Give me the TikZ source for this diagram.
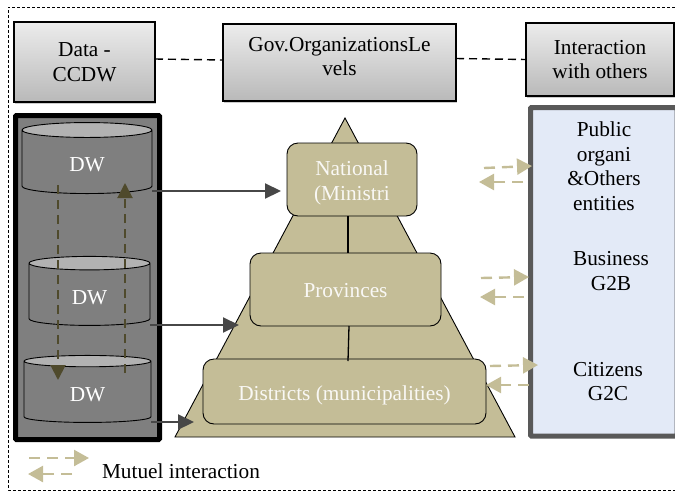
\documentclass[tikz,border=0pt]{standalone}
\usepackage{fontspec}
\setmainfont{Liberation Serif}
\usetikzlibrary{shapes.geometric, arrows.meta, positioning, shadows}
\definecolor{pyrtan}{HTML}{C4BD97}
\definecolor{dwgray}{HTML}{7F7F7F}
\definecolor{dwolive}{HTML}{4F4A2C}
\definecolor{panelblue}{HTML}{E3EAF7}

\begin{document}
\begin{tikzpicture}[
        x=1pt, y=-1pt, >=Latex,
        every node/.style={font=\fontsize{21.3}{24.5}\selectfont, inner sep=0pt, outer sep=0pt, align=center},
        header/.style={rectangle, draw=black, line width=1.3pt, top color=gray!15, bottom color=gray!55, drop shadow={shadow xshift=1pt, shadow yshift=-1.5pt, opacity=0.4}},
        level/.style={rectangle, draw=black, line width=0.9pt, fill=pyrtan, rounded corners=11pt, text=white!90!pyrtan},
        dwcyl/.style={cylinder, shape border rotate=90, draw=black, line width=0.9pt, cylinder uses custom fill, cylinder body fill=dwgray, cylinder end fill=gray!60, text=white},
        link/.style={draw, dash pattern=on 8pt off 5pt, line width=1.4pt},
        feed/.style={draw, line width=2.2pt, color=black!72, -{Triangle[length=16pt, width=15pt]}},
        vertical/.style={draw, dash pattern=on 9pt off 6pt, line width=2pt, color=dwolive, -{Triangle[length=15pt, width=15pt]}},
        mutual/.style={draw, dash pattern=on 11pt off 7pt, line width=2.4pt, color=pyrtan, -{Triangle[length=15pt, width=16pt]}},
    ]
    \useasboundingbox (0,0) rectangle (675,491);
    \draw [densely dashed, line width=0.4pt] (675,7) -- (8,7) -- (8,490) -- (675,490);

    % Headers
    \node [header, minimum width=141pt, minimum height=80pt] (data) at (84.5,62) {Data -\\CCDW};
    \node [header, minimum width=233pt, minimum height=77pt, right=68pt of data, yshift=-0.5pt] (gov) {Gov.OrganizationsLe\\vels\rule[-12pt]{0pt}{0pt}};
    \node [header, minimum width=148pt, minimum height=73pt, right=70pt of gov, yshift=3pt] (others) {Interaction\\with others};

    % Panels
    \node [draw=black, line width=5pt, fill=dwgray, rounded corners=1pt, minimum width=144pt, minimum height=324pt] (store) at (87.5,277.5) {};
    \node [draw=black!65, line width=5pt, fill=panelblue, rounded corners=1pt, minimum width=146.5pt, minimum height=328.5pt] (actors) at (603.75,271.75) {};

    % Data warehouses
    \node [dwcyl, minimum width=130pt, minimum height=71pt, aspect=0.42] (dwa) at (87,162) {\rule{0pt}{19pt}DW};
    \node [dwcyl, minimum width=121pt, minimum height=69pt, aspect=0.38] (dwb) at (89.5,294.5) {\rule{0pt}{20pt}DW};
    \node [dwcyl, minimum width=127pt, minimum height=67pt, aspect=0.32] (dwc) at (87.5,392) {\rule{0pt}{19pt}DW};

    % Pyramid
    \coordinate (apex) at (345,118);
    \coordinate (baseright) at (515,437);
    \coordinate (baseleft) at (175,437);
    \draw [line width=0.9pt, fill=pyrtan] (apex) -- (baseright) -- (baseleft) -- cycle;
    \node [level, minimum width=130pt, minimum height=73pt] (national) at (352,179.5) {\rule{0pt}{22pt}National\\(Ministri};
    \node [level, minimum width=191pt, minimum height=73pt, below=37pt of national, xshift=-6.5pt] (provinces) {\rule{0pt}{17pt}Provinces};
    \node [level, minimum width=283pt, minimum height=65pt, below=33pt of provinces, xshift=-1pt] (districts) {\rule{0pt}{23pt}Districts (municipalities)};
    \draw [line width=1.3pt] (348,216) -- (348,253);
    \draw [line width=1.3pt] (349,326) -- (348,361);

    % Right panel texts
    \node (public) at (604,166) {Public\\organi\\\&Others\\entities};
    \node (business) at (611,271) {Business\\G2B};
    \node (citizens) at (608,381.5) {Citizens\\G2C};

    % Links
    \path [link] ([yshift=3pt]data.east) -- ([yshift=2.5pt]gov.west);
    \path [link] ([yshift=4pt]gov.east) -- (others.west);

    % Arrows
    \path [feed] ([shift={(65,29)}]dwa.center) -- ([shift={(-6,11.5)}]national.west);
    \path [feed] ([shift={(60.5,30.5)}]dwb.center) -- ([shift={(-11,-1)}]provinces.south west);
    \path [feed] ([shift={(63.5,30)}]dwc.center) -- ([shift={(-9,-2)}]districts.south west);
    \path [vertical] ([shift={(-29,23)}]dwa.center) -- ([shift={(-29.5,-12)}]dwc.center);
    \path [vertical] ([shift={(37.5,-19)}]dwc.center) -- ([shift={(38,21)}]dwa.center);

    % Mutual arrows
    \coordinate (pa) at (484,168); \coordinate (pb) at (532,166);
    \coordinate (pc) at (523,182); \coordinate (pd) at (479,182);
    \coordinate (ba) at (481,278); \coordinate (bb) at (529,277);
    \coordinate (bc) at (524,297); \coordinate (bd) at (480,297);
    \coordinate (ca) at (490,366); \coordinate (cb) at (538,365);
    \coordinate (cc) at (529,385); \coordinate (cd) at (486,385);
    \path [mutual] (pa) -- (pb);
    \path [mutual] (pc) -- (pd);
    \path [mutual] (ba) -- (bb);
    \path [mutual] (bc) -- (bd);
    \path [mutual] (ca) -- (cb);
    \path [mutual] (cc) -- (cd);

    % Legend
    \coordinate (la) at (29,458); \coordinate (lb) at (89,458);
    \coordinate (lc) at (72,474); \coordinate (ld) at (28,474);
    \path [mutual] (la) -- (lb);
    \path [mutual] (lc) -- (ld);
    \node [anchor=west] (legend) at (102,471) {Mutuel interaction};
\end{tikzpicture}
\end{document}
